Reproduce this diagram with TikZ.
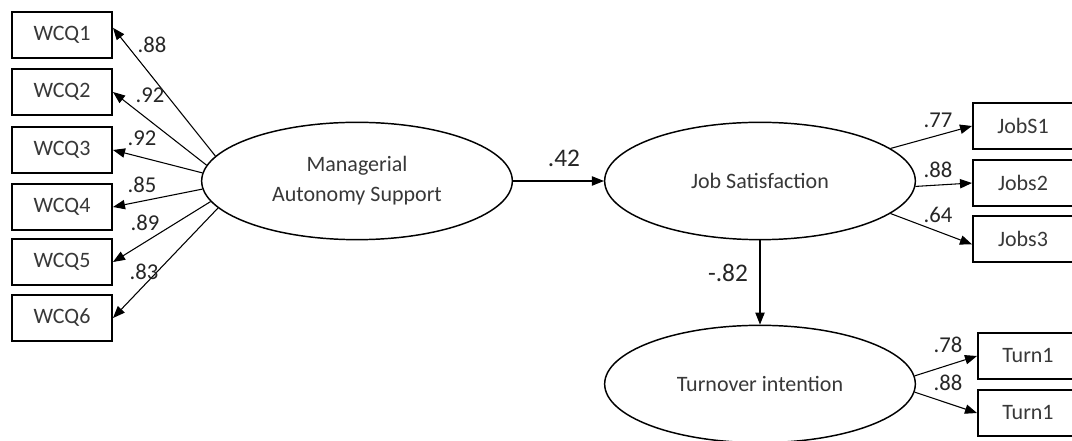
\documentclass[tikz,border=0pt]{standalone}
\usepackage{fontspec}
\setmainfont{Carlito}
\usetikzlibrary{shapes.geometric,arrows.meta}

\begin{document}
\begin{tikzpicture}[x=0.75pt,y=-0.75pt,
  item/.style={rectangle, draw, line width=1.5pt, minimum width=75pt, minimum height=34pt, font=\fontsize{16.5}{18}\selectfont, text=black!78},
  latent/.style={ellipse, draw, line width=1.1pt, minimum width=233pt, minimum height=88pt, align=center, font=\fontsize{16.5}{22.5}\selectfont, text=black!78},
  load/.style={font=\fontsize{17}{20}\selectfont, text=black!85, inner sep=0pt},
  coef/.style={font=\fontsize{19}{22}\selectfont, text=black!85, inner sep=0pt},
  arr/.style={-{Triangle[length=9pt,width=7pt]}, line width=0.8pt}]
  \fill[white] (0,0) rectangle (1072,441);
  \useasboundingbox (0,0) rectangle (1072,441);

  % latent variables
  \node[latent] (mas) at (357,181) {Managerial\\Autonomy Support};
  \node[latent] (js) at (760,181) {Job Satisfaction};
  \node[latent] (ti) at (760,384) {Turnover intention};

  % indicators
  \node[item] (wcq1) at (62,35) {WCQ1};
  \node[item] (wcq2) at (62,92) {WCQ2};
  \node[item] (wcq3) at (62,150) {WCQ3};
  \node[item] (wcq4) at (62,207) {WCQ4};
  \node[item] (wcq5) at (62,262) {WCQ5};
  \node[item] (wcq6) at (62,318) {WCQ6};
  \node[item] (jobs1) at (1023,126) {JobS1};
  \node[item] (jobs2) at (1023,183) {Jobs2};
  \node[item] (jobs3) at (1023,239) {Jobs3};
  \node[item] (turn1) at (1028,356) {Turn1};
  \node[item] (turn2) at (1028,413) {Turn1};

  % loadings
  \draw[arr] (mas.170) -- (wcq1.8);
  \draw[arr] (mas.174) -- (wcq2.east);
  \draw[arr] (mas.177) -- (wcq3.east);
  \draw[arr] (mas.183) -- (wcq4.east);
  \draw[arr] (mas.188) -- (wcq5.east);
  \draw[arr] (mas.191) -- (wcq6.east);
  \draw[arr] (js.14) -- (jobs1.west);
  \draw[arr] (js.-2) -- (jobs2.west);
  \draw[arr] (js.-14) -- ([yshift=-4pt]jobs3.west);
  \draw[arr] (ti.3) -- (turn1.west);
  \draw[arr] (ti.-3) -- (turn2.west);

  % paths
  \draw[arr] (mas.east) -- (js.west);
  \draw[arr] (js.south) -- (ti.north);

  \node[load] (l1) at (152,45) {.88};
  \node[load] (l2) at (150,95) {.92};
  \node[load] (l3) at (142,138) {.92};
  \node[load] (l4) at (142,185) {.85};
  \node[load] (l5) at (145,223) {.89};
  \node[load] (l6) at (144,272) {.83};
  \node[load] (l7) at (938,120) {.77};
  \node[load] (l8) at (938,170) {.88};
  \node[load] (l9) at (938,215) {.64};
  \node[load] (l10) at (948,345) {.78};
  \node[load] (l11) at (948,383) {.88};
  \node[coef] (c1) at (564,158) {.42};
  \node[coef] (c2) at (728,273) {-.82};
\end{tikzpicture}
\end{document}
